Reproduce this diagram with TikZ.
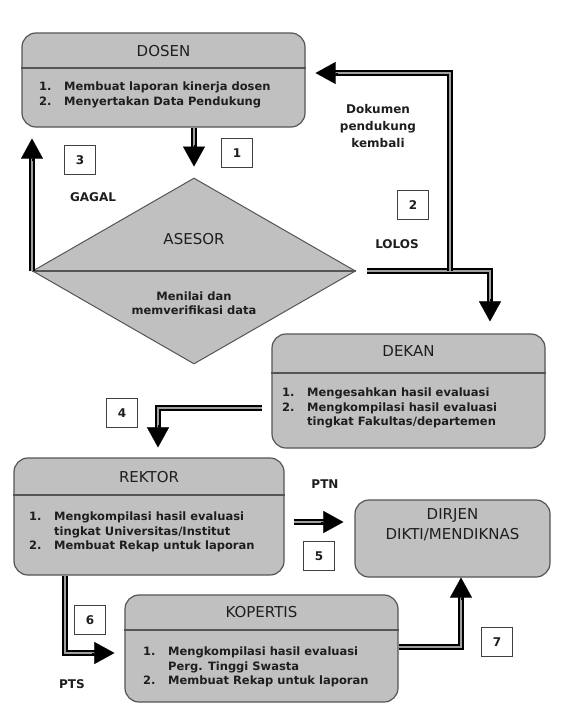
\documentclass[tikz,border=0pt]{standalone}
\usepackage{fontspec}
\setmainfont{DejaVu Sans}
\usetikzlibrary{shapes.geometric,arrows.meta,calc}
\definecolor{boxfill}{RGB}{192,192,192}
\definecolor{edge}{RGB}{85,85,85}
\definecolor{txt}{RGB}{30,30,30}
\begin{document}
\begin{tikzpicture}[x=1pt,y=-1pt,
  box/.style={draw=edge, fill=boxfill, line width=1.2pt, rounded corners=14pt, inner sep=0pt},
  sepline/.style={draw=edge, line width=1.2pt},
  ttl/.style={font=\fontsize{15}{17}\selectfont, inner sep=0pt, text=txt},
  items/.style={font=\fontsize{11.5}{14.5}\selectfont\bfseries, align=left, anchor=west, inner sep=0pt, text=txt},
  lab/.style={font=\fontsize{12}{15}\selectfont\bfseries, inner sep=0pt, text=txt},
  numbox/.style={draw=black!75, fill=white, line width=0.8pt, minimum width=31pt, minimum height=29pt, inner sep=0pt, font=\fontsize{12}{15}\selectfont\bfseries, text=txt},
  dbl/.style={draw=black, line width=1.6pt, double=gray!75, double distance=2pt},
  head/.style={line width=0.1pt, -{Triangle[width=22pt,length=20pt]}},
]
\useasboundingbox (0,0) rectangle (561,704);
\newcommand{\itm}[1]{\makebox[25pt][l]{#1}}

% ---------- boxes ----------
\node[box, minimum width=283pt, minimum height=94pt] (dosen) at (163.5,80) {};
\draw[sepline] (dosen.west |- 0,68) -- (dosen.east |- 0,68);
\node[ttl] (dosenT) at (163.5,51) {DOSEN};
\node[items] (dosenI) at (39,95) {\itm{1.}Membuat laporan kinerja dosen\\\itm{2.}Menyertakan Data Pendukung};

\node[diamond, draw=edge, fill=boxfill, line width=1pt, inner sep=0pt, minimum width=323pt, minimum height=186pt] (asesor) at (194,271) {};
\draw[draw=edge, line width=1.2pt] (asesor.west) -- (asesor.east);
\node[ttl] (asesorT) at (194,239) {ASESOR};
\node[items, anchor=center, align=center] (asesorI) at (194,303) {Menilai dan\\memverifikasi data};

\node[box, minimum width=273pt, minimum height=114pt] (dekan) at (408.5,391) {};
\draw[sepline] (dekan.west |- 0,373) -- (dekan.east |- 0,373);
\node[ttl] (dekanT) at (408.5,351) {DEKAN};
\node[items] (dekanI) at (282,408) {\itm{1.}Mengesahkan hasil evaluasi\\\itm{2.}Mengkompilasi hasil evaluasi\\\itm{}tingkat Fakultas/departemen};

\node[box, minimum width=270pt, minimum height=117pt] (rektor) at (149,516.5) {};
\draw[sepline] (rektor.west |- 0,495) -- (rektor.east |- 0,495);
\node[ttl] (rektorT) at (149,477) {REKTOR};
\node[items] (rektorI) at (29,532) {\itm{1.}Mengkompilasi hasil evaluasi\\\itm{}tingkat Universitas/Institut\\\itm{2.}Membuat Rekap untuk laporan};

\node[box, minimum width=195pt, minimum height=77pt] (dirjen) at (452.5,538.5) {};
\node[ttl, align=center, font=\fontsize{15}{20}\selectfont] (dirjenT) at (452.5,525) {DIRJEN\\DIKTI/MENDIKNAS};

\node[box, minimum width=273pt, minimum height=107pt] (kopertis) at (261.5,648.5) {};
\draw[sepline] (kopertis.west |- 0,630) -- (kopertis.east |- 0,630);
\node[ttl] (kopertisT) at (261.5,612) {KOPERTIS};
\node[items] (kopertisI) at (143,667) {\itm{1.}Mengkompilasi hasil evaluasi\\\itm{}Perg. Tinggi Swasta\\\itm{2.}Membuat Rekap untuk laporan};

% ---------- number boxes and labels ----------
\node[numbox] (n1) at (237,153) {1};
\node[numbox] (n3) at (80,160) {3};
\node[numbox] (n2) at (413,205) {2};
\node[numbox] (n4) at (122,413) {4};
\node[numbox] (n5) at (319,556) {5};
\node[numbox] (n6) at (90,620) {6};
\node[numbox] (n7) at (497,642) {7};

\node[lab] (gagal) at (93,197) {GAGAL};
\node[lab] (lolos) at (397,244) {LOLOS};
\node[lab] (ptn) at (325,484) {PTN};
\node[lab] (pts) at (72,684) {PTS};
\node[lab, align=center, font=\fontsize{12}{17}\selectfont\bfseries] (dok) at (378,126) {Dokumen\\pendukung\\kembali};

% ---------- connectors ----------
% 1: DOSEN -> ASESOR
\coordinate (t1) at ($(asesor.north)+(0,-11)$);
\draw[dbl] (dosen.south -| asesor.north) -- ($(t1)+(0,-18)$);
\draw[head] ($(t1)+(0,-22)$) -- (t1);

% 3: GAGAL back to DOSEN
\coordinate (t3) at ($(asesor.west |- dosen.south)+(0,11)$);
\draw[dbl] (asesor.west) -- ($(t3)+(0,18)$);
\draw[head] ($(t3)+(0,22)$) -- (t3);

% 2: LOLOS -> DEKAN, with branch back to DOSEN
\coordinate (l0) at ($(asesor.east)+(11,0)$);
\coordinate (lc) at (490,271);
\coordinate (j) at (450,271);
\coordinate (jt) at (450,73);
\coordinate (t2) at ($(dekan.north -| lc)+(0,-12)$);
\draw[dbl] (l0) -- (lc) -- ($(t2)+(0,-18)$);
\draw[head] ($(t2)+(0,-22)$) -- (t2);
\coordinate (tb) at ($(dosen.east |- jt)+(10,0)$);
\draw[dbl] (j) -- (jt) -- ($(tb)+(18,0)$);
\draw[head] ($(tb)+(22,0)$) -- (tb);

% 4: DEKAN -> REKTOR
\coordinate (d0) at ($(dekan.west |- 0,408)+(-9,0)$);
\coordinate (dc) at (158,408);
\coordinate (t4) at ($(rektor.north -| dc)+(0,-10)$);
\draw[dbl] (d0) -- (dc) -- ($(t4)+(0,-18)$);
\draw[head] ($(t4)+(0,-22)$) -- (t4);

% 5: REKTOR -> DIRJEN (PTN)
\coordinate (r0) at ($(rektor.east |- 0,522)+(9,0)$);
\coordinate (t5) at ($(dirjen.west |- r0)+(-11,0)$);
\draw[dbl] (r0) -- ($(t5)+(-18,0)$);
\draw[head] ($(t5)+(-22,0)$) -- (t5);

% 6: REKTOR -> KOPERTIS (PTS)
\coordinate (r1) at (rektor.south -| 65,0);
\coordinate (rc) at (65,653);
\coordinate (t6) at ($(kopertis.west |- rc)+(-10,0)$);
\draw[dbl] (r1) -- (rc) -- ($(t6)+(-18,0)$);
\draw[head] ($(t6)+(-22,0)$) -- (t6);

% 7: KOPERTIS -> DIRJEN
\coordinate (k0) at (kopertis.east |- 0,647);
\coordinate (kc) at (461,647);
\coordinate (t7) at (dirjen.south -| kc);
\draw[dbl] (k0) -- (kc) -- ($(t7)+(0,18)$);
\draw[head] ($(t7)+(0,22)$) -- (t7);
\end{tikzpicture}
\end{document}
